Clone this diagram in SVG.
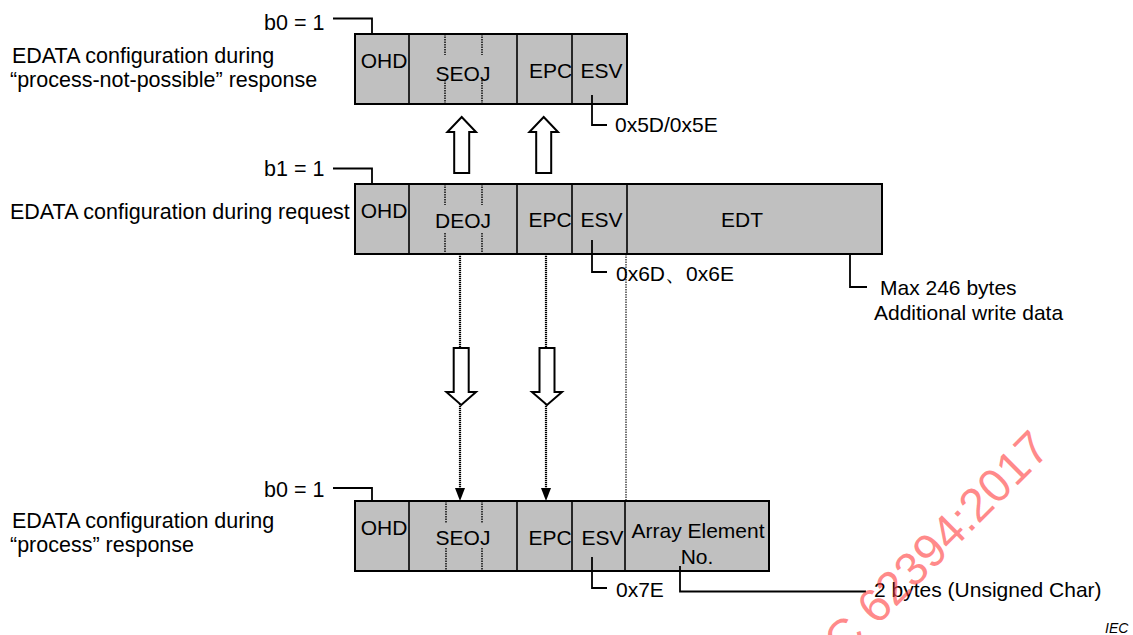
<svg xmlns="http://www.w3.org/2000/svg" width="1133" height="635" viewBox="0 0 1133 635">
<style>
text{font-family:"Liberation Sans",Arial,sans-serif;font-size:21px;fill:#000}
.lbl{font-size:21.5px}
.box{fill:#c0c0c0;stroke:#000;stroke-width:2}
.div{stroke:#000;stroke-width:1.6}
.dash{stroke:#000;stroke-width:1.4;stroke-dasharray:1.5 1}
.ln{fill:none;stroke:#000;stroke-width:1.8}
.dot{fill:none;stroke:#000;stroke-width:2.2;stroke-dasharray:1.2 0.8}
.dotthin{fill:none;stroke:#000;stroke-width:1.1;stroke-dasharray:1.5 1}
.hollow{fill:#fff;stroke:#000;stroke-width:2;stroke-linejoin:miter}
.mid{text-anchor:middle}
</style>
<rect width="1133" height="635" fill="#fff"/>

<g id="labels">
<text class="lbl" x="12" y="63">EDATA configuration during</text>
<text class="lbl" x="10" y="87">“process-not-possible” response</text>
<text class="lbl" x="10" y="219">EDATA configuration during request</text>
<text class="lbl" x="12" y="528">EDATA configuration during</text>
<text class="lbl" x="10" y="552">“process” response</text>
<text class="lbl" x="264" y="30">b0 = 1</text>
<text class="lbl" x="264" y="176">b1 = 1</text>
<text class="lbl" x="264" y="497">b0 = 1</text>
</g>

<g id="connectors">
<path class="dot" d="M460,254 V489"/>
<path class="dot" d="M546,254 V489"/>
<path class="dotthin" d="M626,254 V501"/>
<path d="M455,488 L465,488 L460,501 Z" fill="#000"/>
<path d="M541,488 L551,488 L546,501 Z" fill="#000"/>
<path class="hollow" d="M461.7,117 L476,132 L469.2,132 L469.2,173 L454.2,173 L454.2,132 L447.4,132 Z"/>
<path class="hollow" d="M543.7,117 L558,132 L551.2,132 L551.2,173 L536.2,173 L536.2,132 L529.4,132 Z"/>
<path class="hollow" d="M453.7,348 L468.7,348 L468.7,392 L476,392 L461.2,405 L446.4,392 L453.7,392 Z"/>
<path class="hollow" d="M539.5,348 L554.5,348 L554.5,392 L562,392 L547,405 L532,392 L539.5,392 Z"/>
<path class="ln" d="M333,18.5 H372 V48"/>
<path class="ln" d="M333,168.5 H372 V198"/>
<path class="ln" d="M333,488 H372 V516"/>
</g>

<g id="edata-not-possible">
<rect class="box" x="355" y="34" width="272" height="70"/>
<line class="div" x1="409" y1="34" x2="409" y2="104"/>
<line class="div" x1="517" y1="34" x2="517" y2="104"/>
<line class="div" x1="572" y1="34" x2="572" y2="104"/>
<path class="dash" d="M445,34 V55 M445,80 V104 M482,34 V55 M482,80 V104"/>
<text x="384" y="68" class="mid">OHD</text>
<text x="463" y="81" class="mid">SEOJ</text>
<text x="529" y="78">EPC</text>
<text x="580.5" y="78">ESV</text>
</g>

<g id="edata-request">
<rect class="box" x="355" y="184" width="527" height="70"/>
<line class="div" x1="409" y1="184" x2="409" y2="254"/>
<line class="div" x1="517" y1="184" x2="517" y2="254"/>
<line class="div" x1="572" y1="184" x2="572" y2="254"/>
<line class="div" x1="627" y1="184" x2="627" y2="254"/>
<path class="dash" d="M445,184 V205 M445,233 V254 M482,184 V205 M482,233 V254"/>
<text x="384" y="218" class="mid">OHD</text>
<text x="463" y="228" class="mid">DEOJ</text>
<text x="528.5" y="227">EPC</text>
<text x="580.5" y="227">ESV</text>
<text x="742" y="227" class="mid">EDT</text>
</g>

<g id="edata-process">
<rect class="box" x="355" y="501" width="414" height="70"/>
<line class="div" x1="409" y1="501" x2="409" y2="571"/>
<line class="div" x1="517" y1="501" x2="517" y2="571"/>
<line class="div" x1="572" y1="501" x2="572" y2="571"/>
<line class="div" x1="625" y1="501" x2="625" y2="571"/>
<path class="dash" d="M446,501 V523 M446,548 V571 M482,501 V523 M482,548 V571"/>
<text x="384" y="535" class="mid">OHD</text>
<text x="463" y="545" class="mid">SEOJ</text>
<text x="528.5" y="545">EPC</text>
<text x="581.5" y="545">ESV</text>
<text x="698" y="538" class="mid">Array Element</text>
<text x="697" y="564" class="mid">No.</text>
</g>

<g id="annotations">
<path class="ln" d="M592,95 V125 H607"/>
<text x="615" y="132">0x5D/0x5E</text>
<path class="ln" d="M592,240 V272 H607"/>
<text x="616" y="281">0x6D、0x6E</text>
<path class="ln" d="M592,557 V588 H607"/>
<text x="616" y="597">0x7E</text>
<path class="ln" d="M850,254 V287 H867"/>
<text x="880" y="295">Max 246 bytes</text>
<text x="874" y="320">Additional write data</text>
<path class="ln" d="M680,566 V591.5 H866"/>
<text x="874" y="597">2 bytes (Unsigned Char)</text>
</g>

<text x="1105" y="633" style="font-size:14px;font-style:italic">IEC</text>
<text transform="translate(812,691) rotate(-45)" style="font-size:47px;fill:#ff3b3b;fill-opacity:0.6">IEC 62394:2017</text>
</svg>
